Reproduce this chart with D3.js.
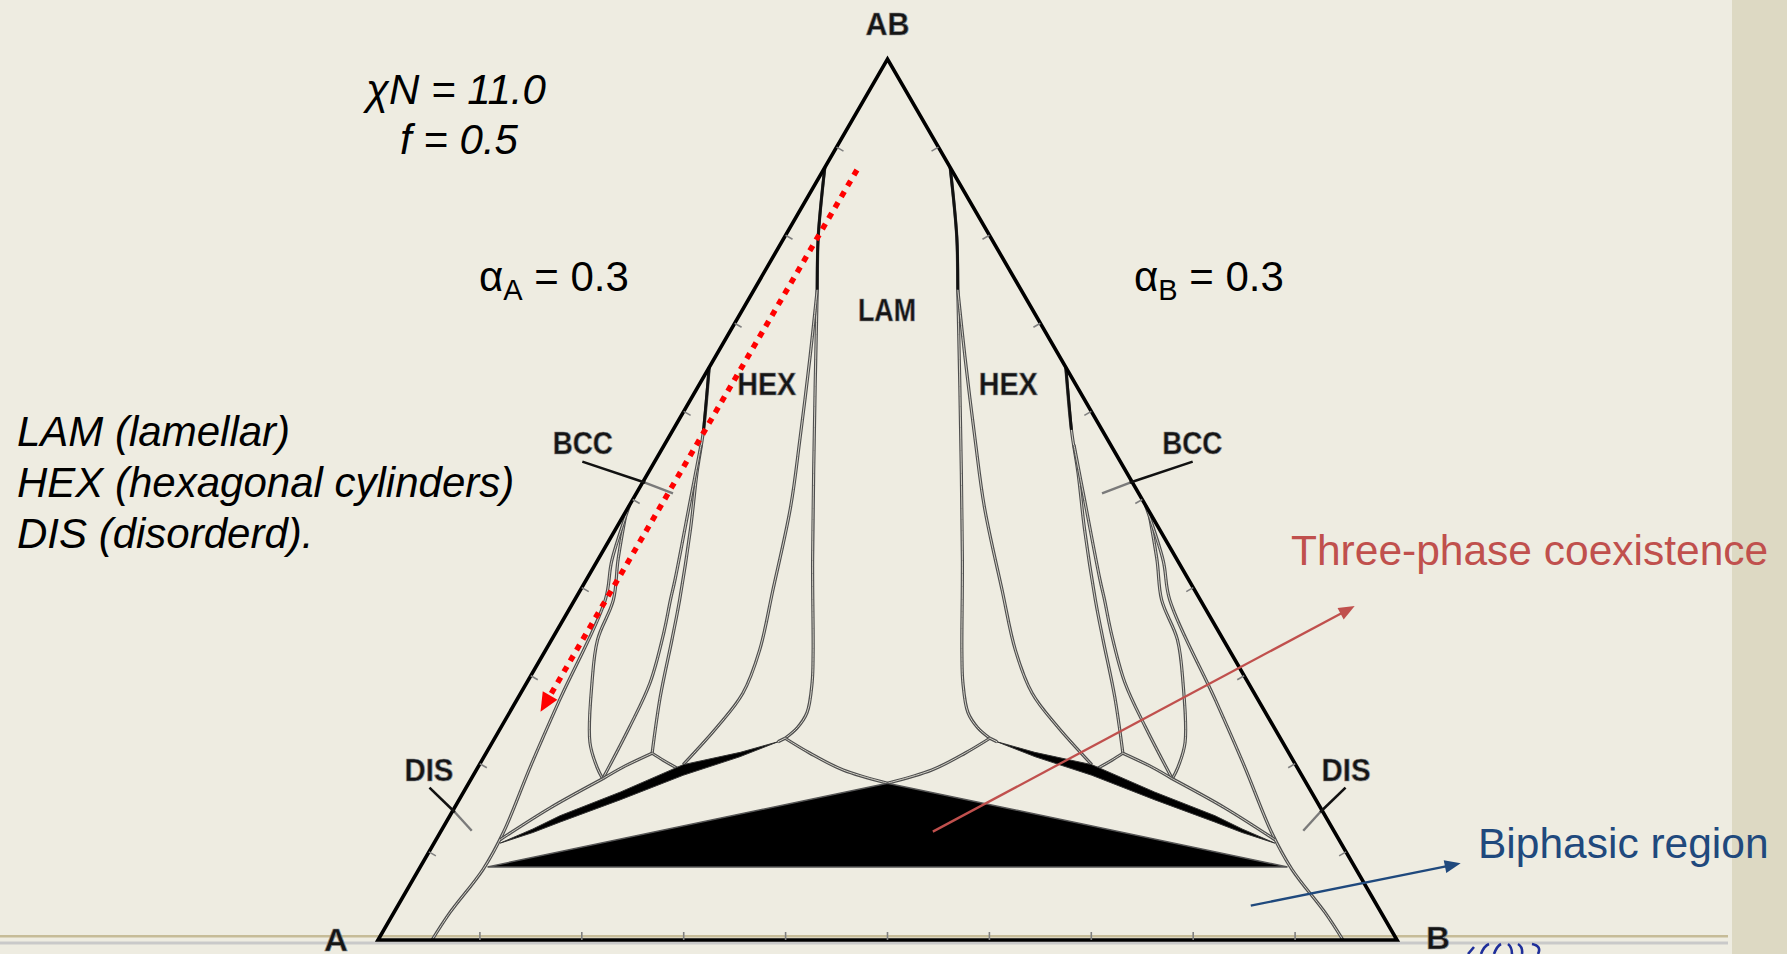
<!DOCTYPE html>
<html>
<head>
<meta charset="utf-8">
<script src="https://cdn.jsdelivr.net/npm/d3@7/dist/d3.min.js"></script>
<style>
  html, body { margin:0; padding:0; background:#EEECE1; overflow:hidden; }
  svg { display:block; }
  text { font-family: "Liberation Sans", Arial, Helvetica, sans-serif; }
</style>
</head>
<body>
<svg id="chart" width="1787" height="954"></svg>
<script>
// ---------------- data ----------------
const vertexNames = ["A", "B", "AB"];
const edgeTickValues = [0.1, 0.2, 0.3, 0.4, 0.5, 0.6, 0.7, 0.8, 0.9];
const chiNText = "χN = 11.0";
const fText = "f = 0.5";
const alphaValues = [["A", "0.3"], ["B", "0.3"]];
const phaseNames = ["LAM", "HEX", "BCC", "DIS"];
const legendLines = ["LAM (lamellar)", "HEX (hexagonal cylinders)", "DIS (disorderd)."];
const annotationTexts = ["Three-phase coexistence", "Biphasic region"];

// Phase boundaries of the A-rich half, as [φ(other homopolymer), φ(AB copolymer)].
// With αA = αB the B-rich half is the mirror image (A <-> B): each boundary is drawn on both halves.
const lamBoundary    = [[0.000,0.877],[0.033,0.798],[0.062,0.738],[0.115,0.628],[0.211,0.431],[0.264,0.326],[0.280,0.292],[0.292,0.258],[0.291,0.241],[0.285,0.229]];
const lamHexBoundary = [[0.062,0.738],[0.093,0.662],[0.130,0.568],[0.159,0.492],[0.189,0.397],[0.210,0.329],[0.218,0.280],[0.212,0.242],[0.200,0.199]];
const hexBoundary    = [[0.000,0.650],[0.030,0.579],[0.048,0.530],[0.074,0.465],[0.103,0.386],[0.118,0.341],[0.139,0.276],[0.163,0.212]];
const hexBccBoundary = [[0.036,0.562],[0.057,0.499],[0.087,0.409],[0.094,0.386],[0.106,0.349],[0.121,0.292],[0.126,0.242],[0.129,0.183]];
const bccBoundary    = [[0.002,0.482],[0.020,0.431],[0.038,0.386],[0.045,0.341],[0.064,0.292],[0.096,0.224],[0.117,0.196],[0.129,0.183]];
const disBoundary    = [[0.000,0.494],[0.014,0.431],[0.030,0.386],[0.042,0.272],[0.051,0.198],[0.062,0.122],[0.063,0.080],[0.055,0.031],[0.053,0.000]];
const tieHexBcc      = [[0.163,0.212],[0.142,0.196],[0.129,0.183]];
const tieHexSliver   = [[0.163,0.212],[0.178,0.204],[0.196,0.195]];
const tieBccDis      = [[0.129,0.183],[0.094,0.150],[0.063,0.114]];
const tieLamSliver   = [[0.285,0.229],[0.280,0.225]];
const lamDisBoundary = [[0.285,0.229],[0.318,0.212],[0.360,0.193],[0.411,0.178]];
const threePhaseSliver = [[0.280,0.225],[0.249,0.213],[0.200,0.199],[0.154,0.168],[0.108,0.141],[0.089,0.126],[0.065,0.110],[0.091,0.122],[0.112,0.134],[0.158,0.159],[0.206,0.187],[0.251,0.208]];
// central three-phase (LAM + A-rich DIS + B-rich DIS) triangle, as [φB, φAB]
const threePhaseTriangle = [[0.066,0.083],[0.411,0.178],[0.851,0.083]];

// ---------------- scales ----------------
const svg = d3.select("#chart");
const W = 1787, H = 954;
const xS = d3.scaleLinear().domain([0, 1]).range([378, 1397]);   // φB + φAB/2
const yS = d3.scaleLinear().domain([0, 1]).range([940, 59]);     // φAB
function P(pt, side) {
  const h = pt[0], c = pt[1];
  const b = side === "B" ? 1 - h - c : h;
  return [xS(b + c / 2), yS(c)];
}
const smooth = d3.line().curve(d3.curveCatmullRom.alpha(0.5));
const straight = d3.line();

// ---------------- slide background ----------------
svg.append("rect").attr("x", 0).attr("y", 0).attr("width", W).attr("height", H).attr("fill", "#EEECE1");
svg.append("rect").attr("x", 1732).attr("y", 0).attr("width", W - 1732).attr("height", H).attr("fill", "#DDD9C3");
svg.append("rect").attr("x", 0).attr("y", 935).attr("width", 1728).attr("height", 2.5).attr("fill", "#C6BC98");
svg.append("rect").attr("x", 0).attr("y", 941.5).attr("width", 1728).attr("height", 3).attr("fill", "#C9C9C9");

const g = svg.append("g");

// ---------------- phase boundaries ----------------
const grayCurves = [lamBoundary, lamHexBoundary, hexBoundary, hexBccBoundary, bccBoundary, disBoundary,
                    tieHexBcc, tieHexSliver, tieBccDis, tieLamSliver, lamDisBoundary];
["A", "B"].forEach(side => {
  grayCurves.forEach(cv => {
    const d = smooth(cv.map(p => P(p, side)));
    g.append("path").attr("d", d).attr("fill", "none").attr("stroke", "#4e4e4e").attr("stroke-width", 3.2);
    g.append("path").attr("d", d).attr("fill", "none").attr("stroke", "#D2D0C6").attr("stroke-width", 1.0);
  });
  // solid black upper parts of the LAM and HEX boundaries
  [[lamBoundary, 3], [hexBoundary, 2]].forEach(([cv, n]) => {
    g.append("path").attr("d", smooth(cv.slice(0, n).map(p => P(p, side))))
      .attr("fill", "none").attr("stroke", "#111").attr("stroke-width", 2.8);
  });
  // three-phase sliver
  g.append("path").attr("d", d3.line().curve(d3.curveLinearClosed)(threePhaseSliver.map(p => P(p, side))))
    .attr("fill", "#000").attr("stroke", "#333").attr("stroke-width", 1);
});

// central three-phase triangle
g.append("path").attr("d", d3.line().curve(d3.curveLinearClosed)(threePhaseTriangle.map(p => P(p, "A"))))
  .attr("fill", "#000").attr("stroke", "#555").attr("stroke-width", 1.5);

// ---------------- triangle frame and ticks ----------------
const vA = P([0, 0], "A"), vB = P([1, 0], "A"), vAB = P([0, 1], "A");
g.append("path").attr("d", straight([vA, vB, vAB]) + "Z")
  .attr("fill", "none").attr("stroke", "#000").attr("stroke-width", 3.6).attr("stroke-linejoin", "miter");

const tickLen = 8;
edgeTickValues.forEach(t => {
  const ticks = [
    [P([0, t], "A"), [0.866, 0.5]],
    [P([0, t], "B"), [-0.866, 0.5]],
    [P([t, 0], "A"), [0, -1]]
  ];
  ticks.forEach(([p, n]) => {
    g.append("line").attr("x1", p[0]).attr("y1", p[1])
      .attr("x2", p[0] + n[0] * tickLen).attr("y2", p[1] + n[1] * tickLen)
      .attr("stroke", "#808080").attr("stroke-width", 1.6);
  });
});

// ---------------- figure labels ----------------
function figLabel(text, p, len, size) {
  g.append("text").attr("x", p[0]).attr("y", p[1]).attr("text-anchor", "middle")
    .attr("font-size", size).attr("font-weight", "bold").attr("fill", "#151515")
    .attr("stroke", "#8a8a8a").attr("stroke-width", 0.7)
    .attr("textLength", len).attr("lengthAdjust", "spacingAndGlyphs").text(text);
}
figLabel(vertexNames[2], [vAB[0], vAB[1] - 24], 44, 32);
figLabel(vertexNames[0], [vA[0] - 42, 951], 24, 32);
figLabel(vertexNames[1], [vB[0] + 41, 949], 24, 32);

figLabel(phaseNames[0], P([0.148, 0.703], "A"), 58, 31);
["A", "B"].forEach(side => {
  figLabel(phaseNames[1], P([0.072, 0.619], side), 59, 31);
  figLabel(phaseNames[2], P([-0.075, 0.552], side), 60, 31);
  figLabel(phaseNames[3], P([-0.040, 0.180], side), 49, 31);
  // leaders
  [[[[-0.071, 0.543], [0.003, 0.519]], [[0.003, 0.519], [0.036, 0.507]]],
   [[[-0.036, 0.173], [0.003, 0.145]], [[0.003, 0.145], [0.030, 0.124]]]].forEach(([blk, gry]) => {
    g.append("path").attr("d", straight(gry.map(p => P(p, side)))).attr("stroke", "#7a7a7a").attr("stroke-width", 2.4).attr("fill", "none");
    g.append("path").attr("d", straight(blk.map(p => P(p, side)))).attr("stroke", "#111").attr("stroke-width", 2.6).attr("fill", "none");
  });
});

// ---------------- slide texts ----------------
svg.append("text").attr("x", 456).attr("y", 104).attr("text-anchor", "middle")
  .attr("font-size", 42).attr("font-style", "italic").attr("fill", "#000").text(chiNText);
svg.append("text").attr("x", 459).attr("y", 154).attr("text-anchor", "middle")
  .attr("font-size", 42).attr("font-style", "italic").attr("fill", "#000").text(fText);

[[479, alphaValues[0]], [1134, alphaValues[1]]].forEach(([x0, [sub, val]]) => {
  const t = svg.append("text").attr("x", x0).attr("y", 291).attr("font-size", 42).attr("fill", "#000");
  t.append("tspan").text("α");
  t.append("tspan").attr("dy", 9).attr("font-size", 29).text(sub);
  t.append("tspan").attr("dy", -9).text(" = " + val);
});

legendLines.forEach((s, i) => {
  svg.append("text").attr("x", 17).attr("y", 446 + i * 51).attr("font-size", 42)
    .attr("font-style", "italic").attr("fill", "#000").text(s);
});

svg.append("text").attr("x", 1291).attr("y", 565).attr("font-size", 42.5).attr("fill", "#C0504D").text(annotationTexts[0]);
svg.append("text").attr("x", 1478).attr("y", 858).attr("font-size", 42.5).attr("fill", "#1F497D").text(annotationTexts[1]);

// ---------------- arrows ----------------
function arrow(p0, p1, color, width, headLen, headW, dash) {
  const dx = p1[0] - p0[0], dy = p1[1] - p0[1], L = Math.hypot(dx, dy), ux = dx / L, uy = dy / L;
  const bx = p1[0] - ux * headLen, by = p1[1] - uy * headLen;
  const ln = svg.append("line").attr("x1", p0[0]).attr("y1", p0[1]).attr("x2", bx + ux).attr("y2", by + uy)
    .attr("stroke", color).attr("stroke-width", width);
  if (dash) ln.attr("stroke-dasharray", dash);
  svg.append("path").attr("d", `M${p1[0]},${p1[1]}L${bx - uy * headW / 2},${by + ux * headW / 2}L${bx + uy * headW / 2},${by - ux * headW / 2}Z`)
    .attr("fill", color);
}
// dilution path (red dotted)
arrow(P([0.033, 0.874], "A"), P([0.030, 0.259], "A"), "#FF0000", 5.5, 19, 17, "6,6.5");
// callouts
arrow(P([0.483, 0.123], "A"), P([0.769, 0.379], "A"), "#C0504D", 2.3, 16, 13);
arrow(P([0.837, 0.039], "A"), P([1.019, 0.087], "A"), "#1F497D", 2.3, 16, 13);

// small logo fragment at the bottom edge
svg.append("path").attr("d", "M1468,954 L1474,947 M1481,954 Q1484,946 1489,944 M1494,954 Q1497,946 1501,944 M1508,944 Q1512,947 1512,954 M1518,944 Q1523,947 1522,954 M1532,944 Q1542,946 1538,954")
  .attr("fill", "none").attr("stroke", "#1F2F9A").attr("stroke-width", 2.6);
</script>
</body>
</html>
